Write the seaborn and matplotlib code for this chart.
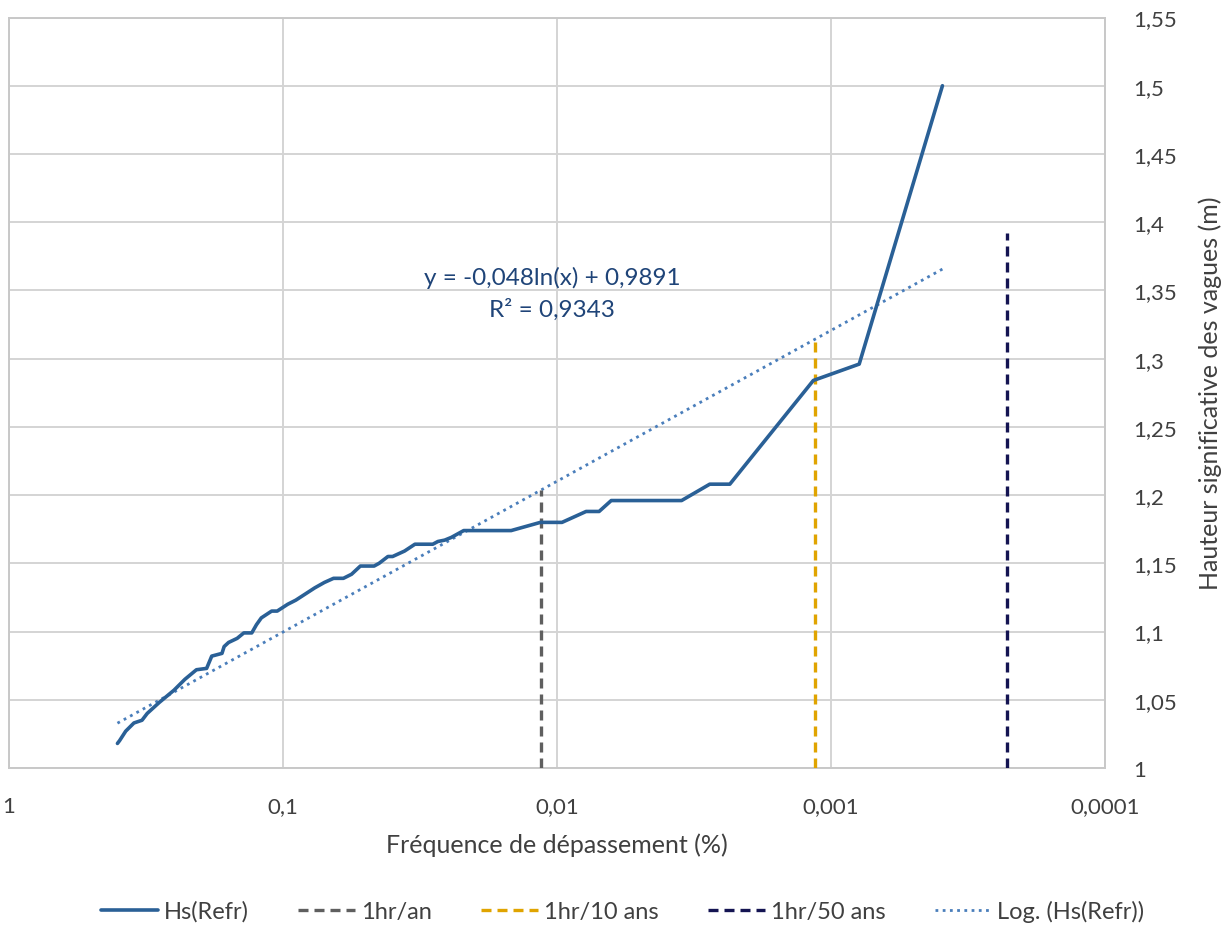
import numpy as np
import pandas as pd
import matplotlib
matplotlib.use("Agg")
import matplotlib.pyplot as plt
from matplotlib.lines import Line2D
import seaborn as sns

# Exceedance frequency (%) and significant wave height (m)
freq_pct = [0.402, 0.395, 0.375, 0.350, 0.327, 0.313, 0.283, 0.250, 0.228, 0.207,
            0.190, 0.182, 0.167, 0.164, 0.158, 0.147, 0.139, 0.130, 0.125, 0.120,
            0.110, 0.105, 0.0961, 0.0898, 0.0822, 0.0766, 0.0706, 0.0654, 0.0602,
            0.0562, 0.0522, 0.0465, 0.0446, 0.0414, 0.0398, 0.0360, 0.0330, 0.0284,
            0.0272, 0.0257, 0.0243, 0.0219, 0.0193, 0.0178, 0.0147, 0.0115, 0.00959,
            0.00783, 0.00702, 0.00634, 0.00351, 0.00277, 0.00234, 0.00116, 0.000789,
            0.000392]
hs_refr = [1.018, 1.020, 1.027, 1.033, 1.035, 1.040, 1.048, 1.057, 1.065, 1.072,
           1.073, 1.082, 1.084, 1.089, 1.092, 1.095, 1.099, 1.099, 1.105, 1.110,
           1.115, 1.115, 1.120, 1.123, 1.128, 1.132, 1.136, 1.139, 1.139, 1.142,
           1.148, 1.148, 1.150, 1.155, 1.155, 1.159, 1.164, 1.164, 1.166, 1.167,
           1.169, 1.174, 1.174, 1.174, 1.174, 1.180, 1.180, 1.188, 1.188, 1.196,
           1.196, 1.208, 1.208, 1.284, 1.296, 1.500]

# Return-period frequencies (%) and heights where they meet the fitted curve
event_labels = ["1hr/an", "1hr/10 ans", "1hr/50 ans"]
event_freq = [0.0114, 0.00114, 0.000228]
event_top = [1.204, 1.315, 1.392]
event_colors = ["#5f5f5f", "#e0a400", "#141452"]

# Logarithmic trendline coefficients
trend_a = -0.048
trend_b = 0.9891
r_squared = 0.9343

x_ticks = [1, 0.1, 0.01, 0.001, 0.0001]
x_tick_labels = ["1", "0,1", "0,01", "0,001", "0,0001"]
y_ticks = [1.0, 1.05, 1.1, 1.15, 1.2, 1.25, 1.3, 1.35, 1.4, 1.45, 1.5, 1.55]
y_tick_labels = ["1", "1,05", "1,1", "1,15", "1,2", "1,25", "1,3", "1,35",
                 "1,4", "1,45", "1,5", "1,55"]

sns.set_style("white")
plt.rcParams["font.family"] = ["Lato", "DejaVu Sans"]
text_color = "#404040"

fig = plt.figure(figsize=(12.26, 9.29), dpi=100)
ax = fig.add_axes([9 / 1226, 1 - 769 / 929, (1105 - 9) / 1226, (769 - 18.5) / 929])

df = pd.DataFrame({"freq": freq_pct, "hs": hs_refr})
sns.lineplot(data=df, x="freq", y="hs", ax=ax, color="#2a6096", lw=2.6,
             sort=False, estimator=None, zorder=4)

# fitted log curve over the data range
xt = np.geomspace(max(freq_pct), min(freq_pct), 200)
ax.plot(xt, trend_a * np.log(xt) + trend_b, color="#4a7ebb", lw=2,
        linestyle=(0, (1, 1.6)), zorder=3)

for f, top, c in zip(event_freq, event_top, event_colors):
    ax.plot([f, f], [1.0, top], color=c, lw=2.4, linestyle=(0, (3, 1.8)), zorder=3)

ax.set_xscale("log")
ax.set_xlim(1, 1e-4)
ax.set_ylim(1.0, 1.55)
ax.set_xticks(x_ticks)
ax.set_xticklabels(x_tick_labels)
ax.xaxis.set_minor_locator(matplotlib.ticker.NullLocator())
ax.set_yticks(y_ticks)
ax.set_yticklabels(y_tick_labels)
ax.yaxis.tick_right()
ax.yaxis.set_label_position("right")
ax.tick_params(axis="both", length=0, labelsize=16, colors=text_color)
ax.tick_params(axis="x", pad=20)
ax.tick_params(axis="y", pad=20)
ax.grid(True, color="#d4d4d4", lw=1.4)
for s in ax.spines.values():
    s.set_color("#c8c8c8")
    s.set_linewidth(1.4)

ax.set_xlabel("Fréquence de dépassement (%)", fontsize=18, color=text_color, labelpad=12)
ax.set_ylabel("Hauteur significative des vagues (m)", fontsize=18, color=text_color,
              labelpad=16)

ax.text(0.0104, 1.360, "y = -0,048ln(x) + 0,9891", ha="center", va="center",
        fontsize=17.5, color="#1f4478")
ax.text(0.0104, 1.3365, "R² = 0,9343", ha="center", va="center",
        fontsize=17.5, color="#1f4478")

handles = [Line2D([], [], color="#2a6096", lw=2.6)]
handles += [Line2D([], [], color=c, lw=2.4, linestyle=(0, (3, 1.8))) for c in event_colors]
handles += [Line2D([], [], color="#4a7ebb", lw=2, linestyle=(0, (1, 1.6)))]
labels = ["Hs(Refr)"] + event_labels + ["Log. (Hs(Refr))"]
fig.legend(handles, labels, loc="center", bbox_to_anchor=(0.508, 1 - 912 / 929),
           ncol=5, frameon=False, fontsize=17, handlelength=2.4, handletextpad=0.25,
           columnspacing=2.1, labelcolor=text_color)

fig.savefig("out.png", dpi=100, facecolor="white")
